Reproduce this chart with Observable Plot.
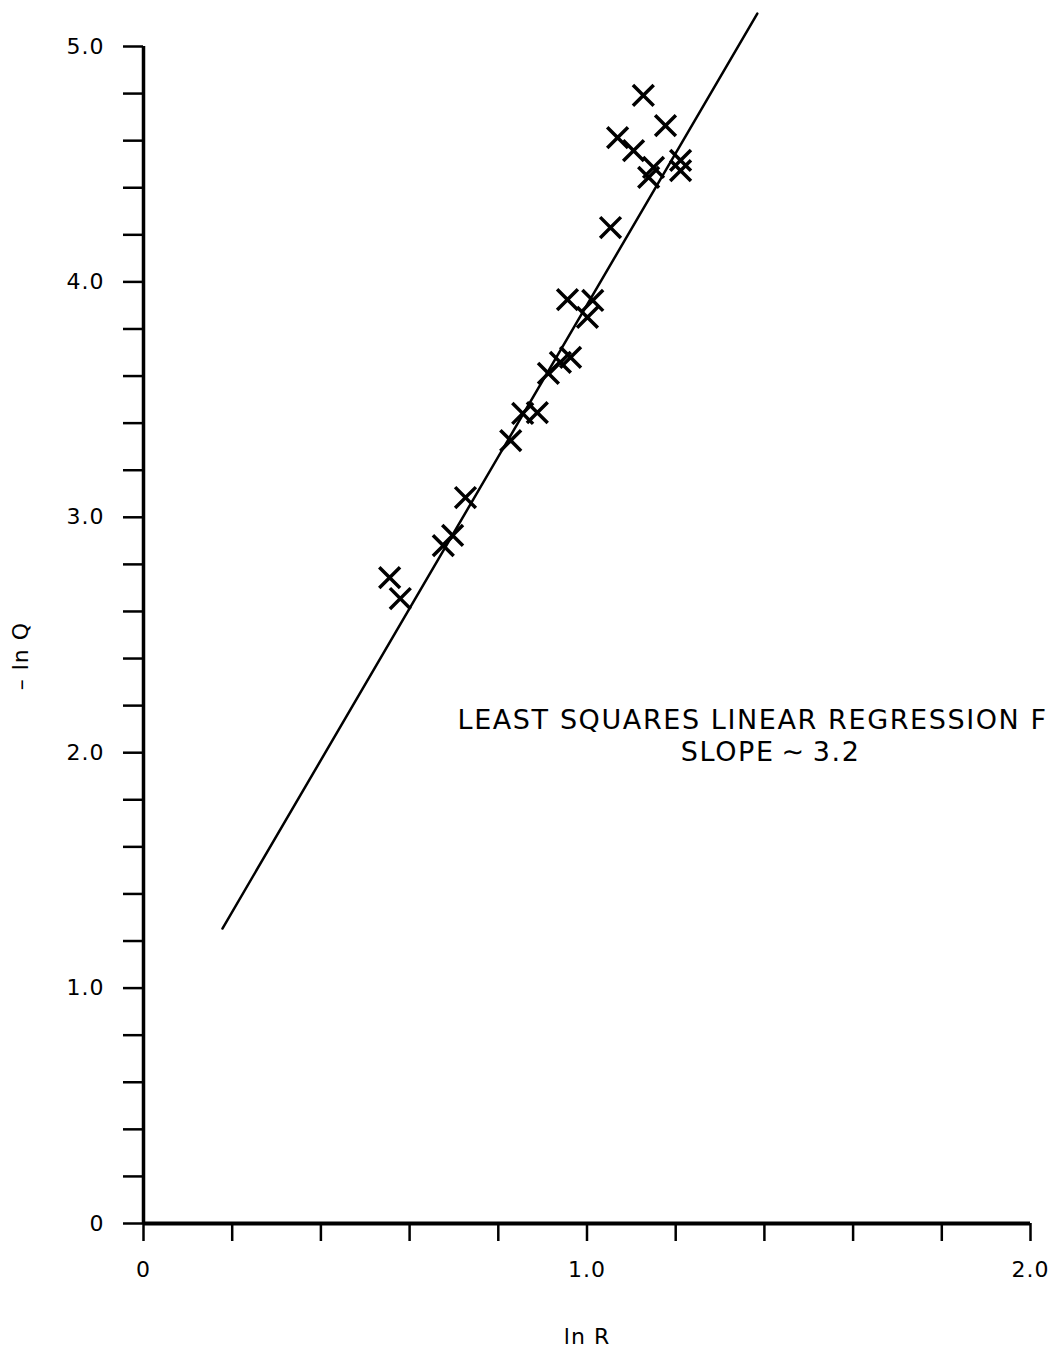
<!DOCTYPE html>
<html>
<head>
<meta charset="utf-8">
<script src="https://cdn.jsdelivr.net/npm/d3@7"></script>
<script src="https://cdn.jsdelivr.net/npm/@observablehq/plot@0.6"></script>
<style>
  html, body { margin: 0; padding: 0; background: #fff; }
  #chart svg { display: block; overflow: visible; }
  #chart svg text { letter-spacing: 1px; }
</style>
</head>
<body>
<div id="chart"></div>
<script>
// Observed points: ln R vs −ln Q
const lnR  = [0.555, 0.579, 0.676, 0.697, 0.726, 0.828, 0.855, 0.888, 0.913, 0.940, 0.963, 0.956, 1.001, 1.013, 1.053, 1.069, 1.105, 1.127, 1.139, 1.150, 1.177, 1.211, 1.211];
const negLnQ = [2.744, 2.655, 2.880, 2.923, 3.084, 3.326, 3.441, 3.445, 3.611, 3.658, 3.679, 3.925, 3.849, 3.921, 4.231, 4.613, 4.558, 4.792, 4.444, 4.486, 4.664, 4.516, 4.473];

// Least squares fit line end points
const fitX = [0.178, 1.384];
const fitY = [1.253, 5.14];

// Ticks
const xTicks = [0, 0.2, 0.4, 0.6, 0.8, 1.0, 1.2, 1.4, 1.6, 1.8, 2.0];
const xTickLabels = ["0", "", "", "", "", "1.0", "", "", "", "", "2.0"];
const yTicks = [0, 0.2, 0.4, 0.6, 0.8, 1.0, 1.2, 1.4, 1.6, 1.8, 2.0, 2.2, 2.4, 2.6, 2.8, 3.0, 3.2, 3.4, 3.6, 3.8, 4.0, 4.2, 4.4, 4.6, 4.8, 5.0];
const yTickLabels = ["0", "", "", "", "", "1.0", "", "", "", "", "2.0", "", "", "", "", "3.0", "", "", "", "", "4.0", "", "", "", "", "5.0"];

const annotationLines = ["LEAST SQUARES LINEAR REGRESSION F", "SLOPE\u2009\u223C\u20093.2"];
const xLabel = "ln R";
const yLabel = "\u2013 ln Q";

const points = lnR.map((x, i) => ({x, y: negLnQ[i]}));
const fit = fitX.map((x, i) => ({x, y: fitY[i]}));

const fmtX = d => xTickLabels[xTicks.findIndex(t => Math.abs(t - d) < 1e-9)] ?? "";
const fmtY = d => yTickLabels[yTicks.findIndex(t => Math.abs(t - d) < 1e-9)] ?? "";

const chart = Plot.plot({
  width: 1052,
  height: 1350,
  marginLeft: 143,
  marginRight: 22,
  marginTop: 46,
  marginBottom: 127,
  style: {fontFamily: "'DejaVu Sans', sans-serif", fontSize: "22px", color: "#000", background: "#fff"},
  x: {domain: [0, 2], axis: null},
  y: {domain: [0, 5], axis: null},
  marks: [
    Plot.axisX({ticks: xTicks, tickFormat: fmtX, tickSize: 18, tickPadding: 20, strokeWidth: 2.5, fontSize: 22, label: null}),
    Plot.axisY({ticks: yTicks, tickFormat: fmtY, tickSize: 20, tickPadding: 19, strokeWidth: 2.5, fontSize: 22, label: null}),
    Plot.ruleY([0], {x1: 0, x2: 2, strokeWidth: 4}),
    Plot.ruleX([0], {y1: 0, y2: 5, strokeWidth: 3.5}),
    Plot.line(fit, {x: "x", y: "y", strokeWidth: 2.5, clip: false}),
    Plot.dot(points, {x: "x", y: "y", symbol: "times", r: 9.5, stroke: "#000", strokeWidth: 3.5}),
    Plot.text([annotationLines[0]], {x: [0.708], y: [2.137], textAnchor: "start", fontSize: 27}),
    Plot.text([annotationLines[1]], {x: [1.414], y: [2.0], textAnchor: "middle", fontSize: 27}),
    Plot.text([xLabel], {frameAnchor: "bottom", dy: 120, textAnchor: "middle", fontSize: 22}),
    Plot.text([yLabel], {x: [0], y: [2.41], dx: -123, textAnchor: "middle", rotate: -90, fontSize: 22})
  ]
});
d3.select(chart).selectAll("text")
  .filter(function () { return annotationLines.includes(this.textContent); })
  .style("letter-spacing", "1.6px");
document.getElementById("chart").appendChild(chart);
</script>
</body>
</html>
